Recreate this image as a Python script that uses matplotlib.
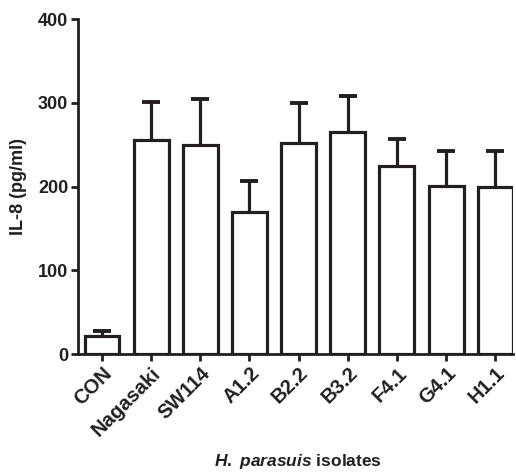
import matplotlib
matplotlib.use("Agg")
import matplotlib.pyplot as plt
from matplotlib.transforms import ScaledTranslation

plt.rcParams["font.family"] = ["Liberation Sans", "DejaVu Sans"]
plt.rcParams["font.weight"] = "bold"
plt.rcParams["mathtext.fontset"] = "custom"
plt.rcParams["mathtext.it"] = "Liberation Sans:italic:bold"
plt.rcParams["mathtext.rm"] = "Liberation Sans:bold"

isolates = ["CON", "Nagasaki", "SW114", "A1.2", "B2.2", "B3.2", "F4.1", "G4.1", "H1.1"]
il8_mean = [22, 255, 250, 169, 252, 265, 224, 201, 199]
il8_sem = [5, 46, 54, 37, 48, 43, 33, 41, 43]

ink = "#231f20"

fig = plt.figure(figsize=(5.16, 4.75), dpi=100)
ax = fig.add_axes([0.151, 0.2547, 0.843, 0.7053])

x = list(range(len(isolates)))
ax.bar(x, il8_mean, width=0.71, color="white", edgecolor=ink, linewidth=2.3, zorder=3)
eb = ax.errorbar(x, il8_mean, yerr=[[0] * len(x), il8_sem], fmt="none", ecolor=ink,
                 elinewidth=2.3, capsize=6.5, capthick=2.8, zorder=2)
# only the upper cap, GraphPad style
eb[1][0].set_visible(False)

ax.set_xlim(-0.49, 8.36)
ax.set_ylim(0, 400)
ax.set_yticks([0, 100, 200, 300, 400])
ax.set_xticks(x)
ax.set_xticklabels(isolates, rotation=45, ha="right", rotation_mode="anchor",
                   fontsize=14.5, fontweight="bold", color=ink)
shift = ScaledTranslation(6 / 72, -3 / 72, fig.dpi_scale_trans)
for lab in ax.get_xticklabels():
    lab.set_transform(lab.get_transform() + shift)
for lab in ax.get_yticklabels():
    lab.set_fontsize(13)
    lab.set_fontweight("bold")
    lab.set_color(ink)

for s in ["top", "right"]:
    ax.spines[s].set_visible(False)
for s in ["left", "bottom"]:
    ax.spines[s].set_linewidth(2.0)
    ax.spines[s].set_color(ink)
ax.tick_params(axis="both", direction="out", length=5, width=2.0, color=ink, pad=2)

ax.set_ylabel("IL-8 (pg/ml)", fontsize=13, fontweight="bold", color=ink, labelpad=8)
fig.text(0.578, 0.018, r"$\it{H.\ parasuis}$ isolates", ha="center", fontsize=12.5,
         fontweight="bold", color=ink)

fig.savefig("out.png", dpi=100)
